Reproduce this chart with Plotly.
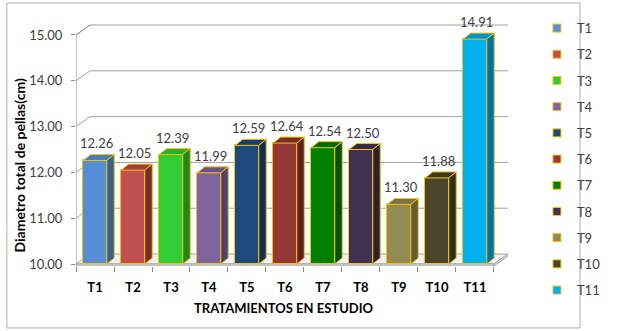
import plotly.graph_objects as go

categories = ["T1", "T2", "T3", "T4", "T5", "T6", "T7", "T8", "T9", "T10", "T11"]
values = [12.26, 12.05, 12.39, 11.99, 12.59, 12.64, 12.54, 12.50, 11.30, 11.88, 14.91]
front_colors = ["#558ED5", "#C0504D", "#33CC33", "#8064A2", "#1F497D", "#953735",
                "#008000", "#403152", "#948A54", "#4A452A", "#00B0F0"]
top_colors = ["#4A7CBA", "#9E3F3C", "#2BAE2B", "#6A5288", "#1A3D69", "#7B2C2B",
              "#006B00", "#352945", "#7C7346", "#3D3923", "#0095CC"]
side_colors = ["#36608F", "#7A2A28", "#1F871F", "#54406D", "#132E50", "#5E1F1E",
               "#005200", "#2A2037", "#615A37", "#302D1B", "#0075A3"]
y_ticks = [10, 11, 12, 13, 14, 15]
y_ticktext = ["10.00", "11.00", "12.00", "13.00", "14.00", "15.00"]

OUTLINE = "#F2C214"
GRID = "#A0A0A0"
AXIS = "#8A8A8A"
FONT = "Lato"
TXT = "#404040"

# depth offsets in data units
WX, WY = 0.369, 0.218     # wall depth
BX, BY = 0.197, 0.131     # bar depth
HW = 0.31                 # half bar width
XMIN, XMAX = -0.5, 10.5 + WX
YMIN, YMAX = 9.9563, 15.240

fig = go.Figure()

# front faces of bars
fig.add_trace(go.Bar(
    x=list(range(len(categories))), y=[v - 10 for v in values], base=10,
    width=2 * HW, marker=dict(color=front_colors, line=dict(color=OUTLINE, width=1)),
    showlegend=False, hoverinfo="skip"))

# legend entries
for c, col in zip(categories, front_colors):
    fig.add_trace(go.Scatter(
        x=[None], y=[None], mode="markers", name=c, legendgroup=c,
        marker=dict(symbol="square", size=8, color=col, line=dict(color=OUTLINE, width=1))))

shapes = []
# floor slab
shapes.append(dict(type="path", xref="x", yref="y", layer="below",
                   path=f"M{XMIN},10 L10.5,10 L{10.5+WX},{10+WY} L{XMIN+WX},{10+WY} Z",
                   fillcolor="#F2F2F2", line=dict(color=GRID, width=1)))
shapes.append(dict(type="path", xref="x", yref="y", layer="below",
                   path=f"M{XMIN},{YMIN} L10.5,{YMIN} L10.5,10 L{XMIN},10 Z",
                   fillcolor="#E6E6E6", line=dict(color=GRID, width=1)))
shapes.append(dict(type="path", xref="x", yref="y", layer="below",
                   path=f"M10.5,{YMIN} L{10.5+WX},{YMIN+WY} L{10.5+WX},{10+WY} L10.5,10 Z",
                   fillcolor="#E6E6E6", line=dict(color=GRID, width=1)))
# gridlines on back/left walls
for v in y_ticks[1:]:
    shapes.append(dict(type="path", xref="x", yref="y", layer="below",
                       path=f"M{XMIN},{v} L{XMIN+WX},{v+WY} L{XMAX},{v+WY}",
                       line=dict(color=GRID, width=1)))
# front vertical axis
shapes.append(dict(type="path", xref="x", yref="y", layer="below",
                   path=f"M{XMIN},{YMIN} L{XMIN},15 L{XMIN+WX},{15+WY}",
                   line=dict(color=AXIS, width=1)))

# 3D faces of bars
for i, v in enumerate(values):
    x0, x1 = i - HW, i + HW
    shapes.append(dict(type="path", xref="x", yref="y", layer="above",
                       path=f"M{x0},{v} L{x1},{v} L{x1+BX},{v+BY} L{x0+BX},{v+BY} Z",
                       fillcolor=top_colors[i], line=dict(color=OUTLINE, width=1)))
    shapes.append(dict(type="path", xref="x", yref="y", layer="above",
                       path=f"M{x1},10 L{x1},{v} L{x1+BX},{v+BY} L{x1+BX},{10+BY} Z",
                       fillcolor=side_colors[i], line=dict(color=OUTLINE, width=1)))

# chart border
shapes.append(dict(type="rect", xref="paper", yref="paper",
                   x0=-0.160, x1=1.1667, y0=-0.256, y1=1.0868,
                   line=dict(color="#B0B0B0", width=1), layer="below"))

annotations = []
for i, v in enumerate(values):
    annotations.append(dict(x=i + 0.05, y=v + BY, xref="x", yref="y", text=f"{v:.2f}",
                            showarrow=False, yanchor="bottom", yshift=1,
                            font=dict(family=FONT, size=13, color=TXT)))
annotations.append(dict(x=-0.131, y=0.417, xref="paper", yref="paper",
                        xanchor="center", yanchor="middle",
                        text="<b>Diametro total de pellas(cm)</b>", textangle=-90,
                        showarrow=False, font=dict(family=FONT, size=14, color="#000000")))
annotations.append(dict(x=0.482, y=-0.174, xref="paper", yref="paper",
                        xanchor="center", yanchor="middle",
                        text="<b>TRATAMIENTOS EN ESTUDIO</b>",
                        showarrow=False, font=dict(family=FONT, size=13, color="#000000")))

fig.update_layout(
    width=618, height=331,
    margin=dict(l=76, r=80, t=24, b=65),
    paper_bgcolor="white", plot_bgcolor="white",
    shapes=shapes, annotations=annotations,
    xaxis=dict(range=[XMIN, XMAX], showgrid=False, zeroline=False, showline=False,
               tickvals=list(range(len(categories))),
               ticktext=[f"<b>{c}</b>" for c in categories],
               ticks="", ticklabelstandoff=12,
               tickfont=dict(family=FONT, size=13, color="#000000"),
               minor=dict(tickvals=[k - 0.5 for k in range(len(categories) + 1)],
                          ticks="outside", ticklen=5, tickcolor=AXIS)),
    yaxis=dict(range=[YMIN, YMAX], showgrid=False, zeroline=False, showline=False,
               tickvals=y_ticks, ticktext=y_ticktext, ticks="outside", ticklen=4,
               ticklabelstandoff=6,
               tickcolor=AXIS, tickfont=dict(family=FONT, size=13, color=TXT)),
    legend=dict(x=1.067, y=1.045, xanchor="left", yanchor="top",
                font=dict(family=FONT, size=13, color=TXT), maxheight=1,
                tracegroupgap=6.3, bgcolor="rgba(0,0,0,0)"),
    bargap=0,
)

fig.write_html("out.html")
